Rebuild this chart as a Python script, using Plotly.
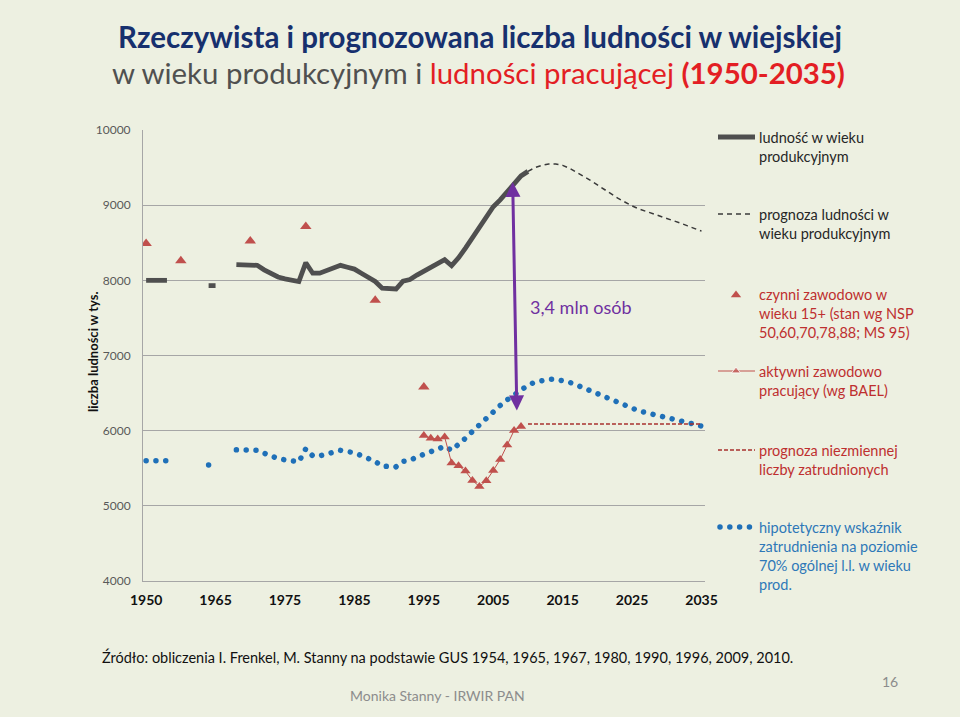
import plotly.graph_objects as go

# ---------------- data ----------------
# Original chart compresses the axis on the left: the 1950 data sit at the "1955" position.
EARLY_SHIFT = 5

# working-age rural population, actual (thousands)
pop_years = [1950, 1951, 1952, 1953, 1954, 1964, 1965, 1966] + list(range(1968, 2011))
pop_values = [8000, 8000, 8000, 8000, None, 7930, 7930, None,
              8210, 8210, 8210, 8200, 8140, 8090, 8045, 8020, 8000, 7985,
              8235, 8095, 8095, 8125, 8165, 8200, 8175, 8150, 8095, 8040,
              7985, 7895, 7885, 7885, 7990, 8010, 8070, 8120, 8170, 8230,
              8275, 8195, 8300, 8430, 8570, 8710, 8860, 8980, 9070, 9180,
              9300, 9390, 9450]

# forecast of working-age population
proj_years = list(range(2010, 2036))
proj_values = [9450, 9500, 9530, 9548, 9548, 9530, 9490, 9440, 9385, 9330,
               9270, 9215, 9150, 9090, 9035, 8990, 8950, 8920, 8890, 8860,
               8830, 8795, 8760, 8725, 8690, 8655]

# economically active 15+ (censuses NSP 50,60,70,78,88; MS 95)
census_years = [1950, 1960, 1970, 1978, 1988, 1995]
census_values = [8490, 8260, 8525, 8715, 7735, 6580]

# employed (LFS / BAEL)
bael_years = list(range(1995, 2010))
bael_values = [5935, 5900, 5888, 5915, 5570, 5532, 5462, 5338, 5258, 5333,
               5470, 5617, 5808, 6003, 6057]

# forecast of unchanged employment
flat_years = [2010, 2035]
flat_values = [6090, 6090]

# hypothetical employment rate at 70% of working-age population
hyp_years = [1950, 1951, 1952, 1953, 1954, 1964, 1965, 1966] + list(range(1968, 2036))
hyp_values = [5600, 5600, 5600, 5600, None, 5545, 5550, None,
              5745, 5745, 5745, 5740, 5700, 5660, 5630, 5612, 5595, 5585,
              5760, 5665, 5665, 5690, 5712, 5738, 5722, 5705, 5668, 5630,
              5590, 5528, 5518, 5520, 5592, 5605, 5650, 5685, 5720, 5760,
              5792, 5738, 5810, 5900, 5990, 6080, 6180, 6265, 6335, 6410,
              6480, 6550, 6605, 6645, 6670, 6684, 6684, 6670, 6643, 6608,
              6570, 6530, 6490, 6450, 6405, 6363, 6325, 6293, 6262, 6240,
              6220, 6200, 6180, 6155, 6130, 6105, 6085, 6060]

# gap annotation (3.4 mln)
gap_years = [2007.8, 2008.4]
gap_values = [9310, 6250]

tick_years = [1955, 1965, 1975, 1985, 1995, 2005, 2015, 2025, 2035]
tick_labels = ["1950", "1965", "1975", "1985", "1995", "2005", "2015", "2025", "2035"]


def xpos(years):
    return [y + EARLY_SHIFT if y < 1955 else y for y in years]


# ---------------- styling ----------------
W, H = 960, 717
BG = "#EDF0E1"
FONT = "Lato"
GRAY_LINE = "#4F4F4F"
RED = "#C0504D"
DARK_RED = "#A8302E"
BLUE = "#1F70B8"  # rgb(31, 112, 184)
PURPLE = "#7030A0"
TXT_RED = "#BE2F2F"
TXT_BLUE = "#2E78B8"


def px(x):
    return x / W


def py(y):
    return 1 - y / H


fig = go.Figure()

fig.add_trace(go.Scatter(x=xpos(hyp_years), y=hyp_values, mode="lines",
                         line=dict(color=BLUE, width=5.5, dash="5px,4.8px"),
                         connectgaps=False))
fig.add_trace(go.Scatter(x=xpos(pop_years), y=pop_values, mode="lines",
                         line=dict(color=GRAY_LINE, width=4.8), connectgaps=False))
fig.add_trace(go.Scatter(x=proj_years, y=proj_values, mode="lines",
                         line=dict(color="#3A3A3A", width=1.5, dash="5px,4px")))
fig.add_trace(go.Scatter(x=flat_years, y=flat_values, mode="lines",
                         line=dict(color=DARK_RED, width=1.5, dash="4px,2px")))
fig.add_trace(go.Scatter(x=bael_years, y=bael_values, mode="lines+markers",
                         line=dict(color=RED, width=1),
                         marker=dict(symbol="triangle-up", size=9, color=RED)))
fig.add_trace(go.Scatter(x=xpos(census_years), y=census_values, mode="markers",
                         marker=dict(symbol="triangle-up", size=10, color=RED)))

# ---------------- legend samples (overlay pixel axes) ----------------
LX0, LX1, LXM = 718, 755, 736
leg = dict(xaxis="x2", yaxis="y2", hoverinfo="skip")
fig.add_trace(go.Scatter(x=[LX0, LX1], y=[137, 137], mode="lines",
                         line=dict(color=GRAY_LINE, width=4.8), **leg))
fig.add_trace(go.Scatter(x=[LX0, 752], y=[214, 214], mode="lines",
                         line=dict(color="#3A3A3A", width=1.5, dash="5px,4px"), **leg))
fig.add_trace(go.Scatter(x=[LXM], y=[295], mode="markers",
                         marker=dict(symbol="triangle-up", size=9, color=RED), **leg))
fig.add_trace(go.Scatter(x=[LX0, LXM, LX1], y=[371, 371, 371], mode="lines+markers",
                         line=dict(color=RED, width=1),
                         marker=dict(symbol="triangle-up", size=[0, 8, 0], color=RED), **leg))
fig.add_trace(go.Scatter(x=[LX0, LX1], y=[450, 450], mode="lines",
                         line=dict(color=DARK_RED, width=1.5, dash="4px,2px"), **leg))
fig.add_trace(go.Scatter(x=[LX0 + 2, LX1], y=[527, 527], mode="lines",
                         line=dict(color=BLUE, width=5.5, dash="5px,4.8px"), **leg))

legend_entries = [
    (137, ["ludność w wieku", "produkcyjnym"], "#262626"),
    (214, ["prognoza ludności w", "wieku produkcyjnym"], "#262626"),
    (294, ["czynni zawodowo w", "wieku 15+ (stan wg NSP", "50,60,70,78,88; MS 95)"], TXT_RED),
    (371, ["aktywni zawodowo", "pracujący (wg BAEL)"], TXT_RED),
    (450, ["prognoza niezmiennej", "liczby zatrudnionych"], TXT_RED),
    (527, ["hipotetyczny wskaźnik", "zatrudnienia na poziomie",
           "70% ogólnej l.l. w wieku", "prod."], TXT_BLUE),
]

annotations = []
for y0, lines, col in legend_entries:
    for i, t in enumerate(lines):
        annotations.append(dict(text=t, xref="paper", yref="paper", x=px(757), y=py(y0 + 19 * i),
                                xanchor="left", yanchor="middle", showarrow=False,
                                font=dict(family=FONT, size=14.5, color=col)))

# titles
annotations.append(dict(
    text="<b>Rzeczywista i prognozowana liczba ludności w wiejskiej</b>",
    xref="paper", yref="paper", x=px(480), y=py(37), xanchor="center", yanchor="middle",
    showarrow=False, font=dict(family=FONT, size=29.5, color="#17306E")))
annotations.append(dict(
    text="<span style='color:#505050'>w wieku produkcyjnym i </span>"
         "<span style='color:#E31E24'>ludności pracującej <b>(1950-2035)</b></span>",
    xref="paper", yref="paper", x=px(478), y=py(72), xanchor="center", yanchor="middle",
    showarrow=False, font=dict(family=FONT, size=29.4, color="#505050")))

# y axis title
annotations.append(dict(
    text="<b>liczba ludności w tys.</b>", textangle=-90,
    xref="paper", yref="paper", x=px(93), y=py(352), xanchor="center", yanchor="middle",
    showarrow=False, font=dict(family=FONT, size=13, color="#111111")))

# arrow + label
annotations.append(dict(
    x=gap_years[0], y=gap_values[0], ax=gap_years[1], ay=gap_values[1],
    xref="x", yref="y", axref="x", ayref="y", text="", showarrow=True,
    arrowhead=2, startarrowhead=2, arrowside="end+start", arrowwidth=3,
    arrowsize=1, startarrowsize=1, arrowcolor=PURPLE))
annotations.append(dict(
    text="3,4 mln osób", x=2010.0, y=7640, xref="x", yref="y", xanchor="left",
    yanchor="middle", showarrow=False, font=dict(family=FONT, size=18, color=PURPLE)))

# footer
annotations.append(dict(
    text="Źródło: obliczenia I. Frenkel, M. Stanny na podstawie GUS 1954, 1965, 1967, 1980, 1990, 1996, 2009, 2010.",
    xref="paper", yref="paper", x=px(100), y=py(657), xanchor="left", yanchor="middle",
    showarrow=False, font=dict(family=FONT, size=14.5, color="#111111")))
annotations.append(dict(
    text="Monika Stanny - IRWIR PAN", xref="paper", yref="paper", x=px(437), y=py(695),
    xanchor="center", yanchor="middle", showarrow=False,
    font=dict(family=FONT, size=14, color="#8C8C8C")))
annotations.append(dict(
    text="16", xref="paper", yref="paper", x=px(890), y=py(681),
    xanchor="center", yanchor="middle", showarrow=False,
    font=dict(family=FONT, size=14, color="#8C8C8C")))

fig.update_layout(
    width=W, height=H, margin=dict(l=0, r=0, t=0, b=0, pad=0, autoexpand=False),
    paper_bgcolor=BG, plot_bgcolor="rgba(0,0,0,0)",
    showlegend=False, annotations=annotations,
    xaxis=dict(domain=[px(143), px(705)], range=[1954.55, 2035.5],
               tickmode="array", tickvals=tick_years,
               ticktext=["<b>%s</b>" % t for t in tick_labels],
               tickfont=dict(family=FONT, size=14, color="#111111"),
               showgrid=False, zeroline=False, showline=True, linecolor="#A6A6A6",
               ticks="", ticklabelstandoff=6, automargin=False),
    yaxis=dict(domain=[py(581), py(130)], range=[4000, 10000.5], dtick=1000, tick0=4000,
               tickformat="d",
               tickfont=dict(family=FONT, size=12, color="#595959"),
               showgrid=True, gridcolor="#A6A6A6", gridwidth=1, zeroline=False,
               showline=True, linecolor="#A6A6A6", ticks="", ticklabelstandoff=9,
               automargin=False),
    xaxis2=dict(domain=[0, 1], range=[0, W], visible=False, anchor="y2", automargin=False),
    yaxis2=dict(domain=[0, 1], range=[H, 0], visible=False, anchor="x2", automargin=False),
)

post = """
document.documentElement.style.margin = '0';
document.documentElement.style.overflow = 'hidden';
document.body.style.margin = '0';
document.body.style.overflow = 'hidden';
var gd = document.getElementById('{plot_id}');
gd.querySelectorAll('path.js-line').forEach(function (p) {
  if (p.style.stroke === 'rgb(31, 112, 184)') {
    p.style.strokeLinecap = 'round';
    p.style.strokeDasharray = '0.01px, 9.8px';
  }
});
"""
fig.write_html("out.html", post_script=post, config={"displayModeBar": False})
